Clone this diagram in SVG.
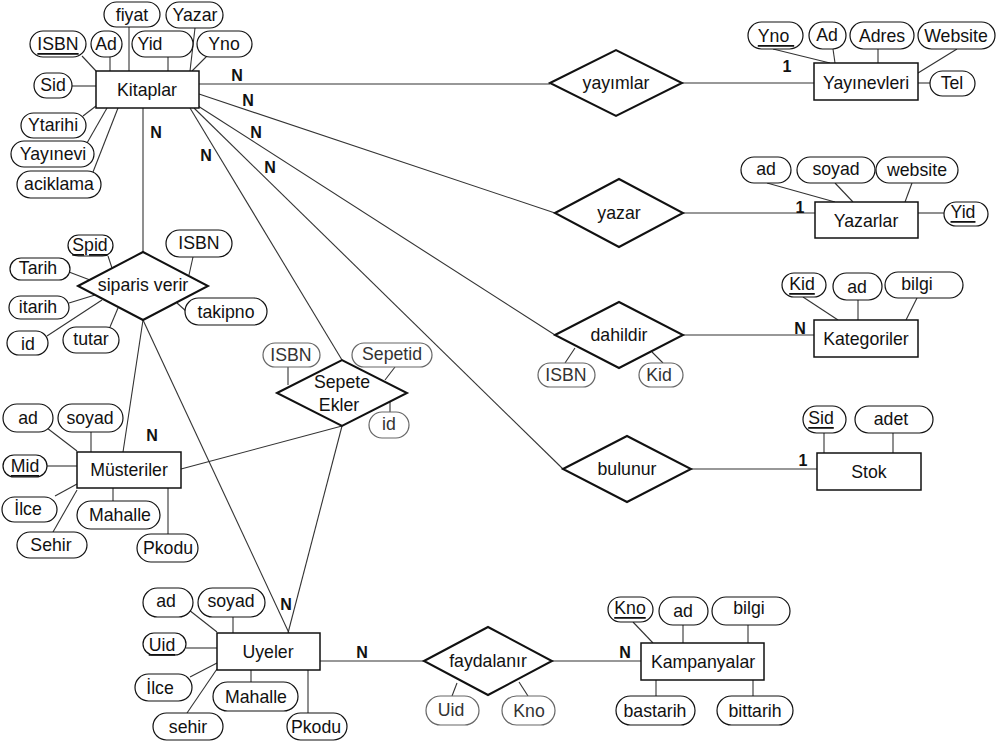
<svg xmlns="http://www.w3.org/2000/svg" width="1000" height="743" viewBox="0 0 1000 743">
  <style>
    text { font-family: "Liberation Sans", Arial, sans-serif; font-size: 17.7px; fill: #111; text-anchor: middle; dominant-baseline: central; }
    .card { font-weight: bold; font-size: 16px; }
    .ent rect { fill: #fff; stroke: #111; stroke-width: 1.5; }
    .rel polygon { fill: #fff; stroke: #111; stroke-width: 2; }
    .attr rect { fill: #fff; stroke: #111; stroke-width: 1.2; }
    .attr.soft rect { stroke: #666; }
    .attr.soft text { fill: #333; }
    .attr line, .link line { stroke: #333; stroke-width: 1.1; }
    .key { text-decoration: underline; }
  </style>

  <!-- relationship connectors -->
  <g id="connectors" class="link">
    <line x1="199" y1="84" x2="550" y2="84"/>
    <line x1="682" y1="83" x2="814" y2="83"/>
    <line x1="199" y1="94" x2="555" y2="213"/>
    <line x1="683" y1="213" x2="815" y2="213"/>
    <line x1="198" y1="106" x2="555" y2="335"/>
    <line x1="683" y1="335" x2="814" y2="335"/>
    <line x1="194" y1="108" x2="563" y2="469"/>
    <line x1="691" y1="469" x2="817" y2="469"/>
    <line x1="190" y1="108" x2="342" y2="360"/>
    <line x1="143" y1="108" x2="143" y2="252"/>
    <line x1="143" y1="320" x2="123" y2="452"/>
    <line x1="143" y1="320" x2="289" y2="633"/>
    <line x1="181" y1="469" x2="342" y2="426"/>
    <line x1="342" y1="426" x2="288" y2="633"/>
    <line x1="320" y1="661" x2="424" y2="661"/>
    <line x1="552" y1="661" x2="641" y2="661"/>
  </g>

  <!-- cardinality labels -->
  <g id="cardinalities">
    <text class="card" x="237" y="75">N</text>
    <text class="card" x="248" y="100">N</text>
    <text class="card" x="256" y="132">N</text>
    <text class="card" x="270" y="167">N</text>
    <text class="card" x="206" y="155">N</text>
    <text class="card" x="156" y="132">N</text>
    <text class="card" x="787" y="66">1</text>
    <text class="card" x="800" y="207">1</text>
    <text class="card" x="800" y="328">N</text>
    <text class="card" x="803" y="460">1</text>
    <text class="card" x="152" y="435">N</text>
    <text class="card" x="286" y="604">N</text>
    <text class="card" x="362" y="652">N</text>
    <text class="card" x="625" y="652">N</text>
  </g>

  <!-- Kitaplar -->
  <g id="kitaplar">
    <g class="attr">
      <line x1="82" y1="56" x2="96" y2="71"/>
      <line x1="110" y1="57" x2="110" y2="71"/>
      <line x1="129" y1="27" x2="129" y2="71"/>
      <line x1="195" y1="28" x2="190" y2="71"/>
      <line x1="168" y1="57" x2="168" y2="71"/>
      <line x1="207" y1="56" x2="192" y2="71"/>
      <line x1="72" y1="86" x2="96" y2="86"/>
      <line x1="83" y1="116" x2="96" y2="106"/>
      <line x1="87" y1="143" x2="107" y2="108"/>
      <line x1="93" y1="172" x2="118" y2="108"/>
      <rect x="30" y="31" width="56" height="26" rx="13"/><text class="key" x="58" y="44">ISBN</text>
      <rect x="91" y="31" width="31" height="26" rx="13"/><text x="106" y="44">Ad</text>
      <rect x="132" y="31" width="61" height="26" rx="13"/><text x="150" y="44">Yid</text>
      <rect x="197" y="31" width="55" height="26" rx="13"/><text x="224" y="44">Yno</text>
      <rect x="104" y="2" width="56" height="25" rx="12.5"/><text x="132" y="15">fiyat</text>
      <rect x="166" y="2" width="57" height="26" rx="13"/><text x="195" y="15">Yazar</text>
      <rect x="34" y="73" width="38" height="25" rx="12.5"/><text x="53" y="85">Sid</text>
      <rect x="21" y="113" width="65" height="25" rx="12.5"/><text x="53" y="125">Ytarihi</text>
      <rect x="11" y="141" width="83" height="26" rx="13"/><text x="53" y="154">Yayınevi</text>
      <rect x="17" y="171" width="84" height="27" rx="13.5"/><text x="59" y="184">aciklama</text>
    </g>
    <g class="ent"><rect x="96" y="71" width="103" height="37"/><text x="147" y="90">Kitaplar</text></g>
  </g>

  <!-- yayımlar -->
  <g id="yayimlar" class="rel">
    <polygon points="550,83 616,50 682,83 616,116"/><text x="616" y="83">yayımlar</text>
  </g>

  <!-- Yayınevleri -->
  <g id="yayinevleri">
    <g class="attr">
      <line x1="773" y1="49" x2="830" y2="63"/>
      <line x1="833" y1="49" x2="835" y2="63"/>
      <line x1="878" y1="49" x2="878" y2="63"/>
      <line x1="957" y1="49" x2="918" y2="73"/>
      <line x1="918" y1="83" x2="930" y2="83"/>
      <rect x="748" y="22" width="55" height="27" rx="13.5"/><text class="key" x="776" y="36" xml:space="preserve">Yno </text>
      <rect x="809" y="22" width="37" height="27" rx="13.5"/><text x="827" y="35">Ad</text>
      <rect x="850" y="22" width="64" height="27" rx="13.5"/><text x="882" y="36">Adres</text>
      <rect x="918" y="22" width="77" height="27" rx="13.5"/><text x="956" y="36">Website</text>
      <rect x="930" y="71" width="45" height="25" rx="12.5"/><text x="952" y="83">Tel</text>
    </g>
    <g class="ent"><rect x="814" y="63" width="104" height="37"/><text x="866" y="83">Yayınevleri</text></g>
  </g>

  <!-- yazar -->
  <g id="yazar" class="rel">
    <polygon points="555,213 619,179 683,213 619,247"/><text x="619" y="213">yazar</text>
  </g>

  <!-- Yazarlar -->
  <g id="yazarlar">
    <g class="attr">
      <line x1="767" y1="183" x2="835" y2="202"/>
      <line x1="835" y1="183" x2="853" y2="202"/>
      <line x1="912" y1="183" x2="905" y2="202"/>
      <line x1="918" y1="213" x2="944" y2="213"/>
      <rect x="741" y="157" width="50" height="26" rx="13"/><text x="766" y="169">ad</text>
      <rect x="797" y="157" width="78" height="26" rx="13"/><text x="836" y="169">soyad</text>
      <rect x="876" y="157" width="82" height="26" rx="13"/><text x="917" y="170">website</text>
      <rect x="944" y="202" width="44" height="24" rx="12"/><text class="key" x="963" y="212">Yid</text>
    </g>
    <g class="ent"><rect x="815" y="202" width="103" height="36"/><text x="866" y="221">Yazarlar</text></g>
  </g>

  <!-- dahildir -->
  <g id="dahildir">
    <g class="attr soft">
      <line x1="575" y1="348" x2="565" y2="363"/>
      <line x1="652" y1="352" x2="663" y2="363"/>
      <rect x="538" y="363" width="57" height="24" rx="12"/><text x="566" y="375">ISBN</text>
      <rect x="639" y="363" width="44" height="24" rx="12"/><text x="659" y="375">Kid</text>
    </g>
    <g class="rel"><polygon points="555,335 619,302 683,335 619,368"/><text x="619" y="335">dahildir</text></g>
  </g>

  <!-- Kategoriler -->
  <g id="kategoriler">
    <g class="attr">
      <line x1="803" y1="297" x2="838" y2="320"/>
      <line x1="858" y1="300" x2="858" y2="320"/>
      <line x1="917" y1="298" x2="906" y2="320"/>
      <g class="soft"><rect x="782" y="273" width="44" height="24" rx="12" stroke="#666"/><text class="key" x="802" y="284">Kid</text></g>
      <rect x="833" y="273" width="49" height="27" rx="13.5"/><text x="857" y="287">ad</text>
      <rect x="885" y="272" width="78" height="26" rx="13"/><text x="917" y="284">bilgi</text>
    </g>
    <g class="ent"><rect x="814" y="320" width="104" height="37"/><text x="866" y="339">Kategoriler</text></g>
  </g>

  <!-- bulunur -->
  <g id="bulunur" class="rel">
    <polygon points="563,469 627,436 691,469 627,502"/><text x="627" y="469">bulunur</text>
  </g>

  <!-- Stok -->
  <g id="stok">
    <g class="attr">
      <line x1="824" y1="433" x2="824" y2="453"/>
      <line x1="893" y1="433" x2="893" y2="453"/>
      <rect x="803" y="406" width="43" height="27" rx="13.5" stroke="#666"/><text class="key" x="821" y="418">Sid</text>
      <rect x="855" y="406" width="78" height="27" rx="13.5"/><text x="891" y="419">adet</text>
    </g>
    <g class="ent"><rect x="817" y="453" width="104" height="37"/><text x="869" y="472">Stok</text></g>
  </g>

  <!-- siparis verir -->
  <g id="siparis-verir">
    <g class="attr">
      <line x1="108" y1="256" x2="112" y2="268"/>
      <line x1="193" y1="257" x2="189" y2="275"/>
      <line x1="69" y1="272" x2="90" y2="280"/>
      <line x1="69" y1="303" x2="95" y2="295"/>
      <line x1="47" y1="336" x2="102" y2="300"/>
      <line x1="110" y1="327" x2="118" y2="308"/>
      <line x1="187" y1="312" x2="177" y2="303"/>
      <rect x="68" y="235" width="45" height="21" rx="10.5" stroke="#666"/><text class="key" x="90" y="245">Spid</text>
      <rect x="166" y="230" width="66" height="27" rx="13.5"/><text x="199" y="243">ISBN</text>
      <rect x="10" y="258" width="60" height="22" rx="11"/><text x="38" y="268">Tarih</text>
      <rect x="9" y="296" width="60" height="23" rx="11.5"/><text x="38" y="307">itarih</text>
      <rect x="7" y="331" width="41" height="24" rx="12"/><text x="28" y="344">id</text>
      <rect x="63" y="327" width="56" height="26" rx="13"/><text x="91" y="339">tutar</text>
      <rect x="185" y="298" width="82" height="27" rx="13.5"/><text x="226" y="312">takipno</text>
    </g>
    <g class="rel"><polygon points="78,286 143,252 208,286 143,320"/><text x="143" y="285">siparis verir</text></g>
  </g>

  <!-- Sepete Ekler -->
  <g id="sepete-ekler">
    <g class="attr soft">
      <line x1="288" y1="367" x2="288" y2="385"/>
      <line x1="395" y1="367" x2="385" y2="380"/>
      <line x1="390" y1="402" x2="390" y2="412"/>
      <rect x="263" y="343" width="57" height="24" rx="12"/><text x="291" y="355">ISBN</text>
      <rect x="352" y="343" width="80" height="24" rx="12"/><text x="392" y="354">Sepetid</text>
      <rect x="369" y="412" width="40" height="26" rx="13"/><text x="389" y="424">id</text>
    </g>
    <g class="rel"><polygon points="277,393 342,360 407,393 342,426"/><text x="342" y="382">Sepete</text><text x="339" y="405">Ekler</text></g>
  </g>

  <!-- Müsteriler -->
  <g id="musteriler">
    <g class="attr">
      <line x1="47" y1="428" x2="77" y2="451"/>
      <line x1="91" y1="432" x2="91" y2="452"/>
      <line x1="47" y1="466" x2="77" y2="466"/>
      <line x1="55" y1="496" x2="77" y2="484"/>
      <line x1="53" y1="532" x2="77" y2="490"/>
      <line x1="113" y1="488" x2="113" y2="501"/>
      <line x1="168" y1="488" x2="168" y2="534"/>
      <rect x="3" y="404" width="50" height="28" rx="14"/><text x="28" y="418">ad</text>
      <rect x="58" y="404" width="65" height="28" rx="14"/><text x="90" y="418">soyad</text>
      <rect x="3" y="455" width="44" height="22" rx="11"/><text class="key" x="25" y="466">Mid</text>
      <rect x="2" y="497" width="55" height="25" rx="12.5"/><text x="28" y="509">İlce</text>
      <rect x="17" y="532" width="70" height="26" rx="13"/><text x="51" y="545">Sehir</text>
      <rect x="77" y="501" width="83" height="28" rx="14"/><text x="120" y="515">Mahalle</text>
      <rect x="137" y="534" width="61" height="28" rx="14"/><text x="168" y="548">Pkodu</text>
    </g>
    <g class="ent"><rect x="77" y="452" width="104" height="36"/><text x="129" y="470">Müsteriler</text></g>
  </g>

  <!-- Uyeler -->
  <g id="uyeler">
    <g class="attr">
      <line x1="189" y1="610" x2="217" y2="632"/>
      <line x1="233" y1="617" x2="233" y2="633"/>
      <line x1="186" y1="648" x2="217" y2="648"/>
      <line x1="190" y1="677" x2="217" y2="663"/>
      <line x1="187" y1="713" x2="217" y2="669"/>
      <line x1="251" y1="670" x2="251" y2="682"/>
      <line x1="308" y1="670" x2="308" y2="713"/>
      <rect x="143" y="588" width="50" height="29" rx="14.5"/><text x="166" y="601">ad</text>
      <rect x="198" y="588" width="67" height="29" rx="14.5"/><text x="231" y="601">soyad</text>
      <rect x="143" y="633" width="43" height="22" rx="11"/><text class="key" x="162" y="645">Uid</text>
      <rect x="135" y="674" width="57" height="27" rx="13.5"/><text x="160" y="688">İlce</text>
      <rect x="153" y="713" width="70" height="27" rx="13.5"/><text x="188" y="727">sehir</text>
      <rect x="213" y="682" width="85" height="29" rx="14.5"/><text x="256" y="697">Mahalle</text>
      <rect x="287" y="713" width="60" height="27" rx="13.5"/><text x="316" y="727">Pkodu</text>
    </g>
    <g class="ent"><rect x="217" y="633" width="103" height="37"/><text x="268" y="652">Uyeler</text></g>
  </g>

  <!-- faydalanır -->
  <g id="faydalanir">
    <g class="attr soft">
      <line x1="457" y1="683" x2="452" y2="696"/>
      <line x1="519" y1="682" x2="528" y2="696"/>
      <rect x="426" y="696" width="53" height="29" rx="14.5"/><text x="451" y="710">Uid</text>
      <rect x="502" y="696" width="53" height="29" rx="14.5"/><text x="529" y="711">Kno</text>
    </g>
    <g class="rel"><polygon points="424,661 488,627 552,661 488,695"/><text x="488" y="661">faydalanır</text></g>
  </g>

  <!-- Kampanyalar -->
  <g id="kampanyalar">
    <g class="attr">
      <line x1="633" y1="622" x2="653" y2="643"/>
      <line x1="683" y1="625" x2="683" y2="643"/>
      <line x1="748" y1="625" x2="748" y2="643"/>
      <line x1="656" y1="680" x2="656" y2="696"/>
      <line x1="753" y1="680" x2="753" y2="696"/>
      <rect x="608" y="597" width="45" height="25" rx="12.5" stroke="#666"/><text class="key" x="630" y="608">Kno</text>
      <rect x="659" y="597" width="49" height="28" rx="14"/><text x="683" y="611">ad</text>
      <rect x="712" y="597" width="78" height="28" rx="14"/><text x="749" y="608">bilgi</text>
      <rect x="616" y="696" width="79" height="29" rx="14.5"/><text x="655" y="711">bastarih</text>
      <rect x="717" y="696" width="76" height="29" rx="14.5"/><text x="755" y="711">bittarih</text>
    </g>
    <g class="ent"><rect x="641" y="643" width="123" height="37"/><text x="703" y="662">Kampanyalar</text></g>
  </g>
</svg>
